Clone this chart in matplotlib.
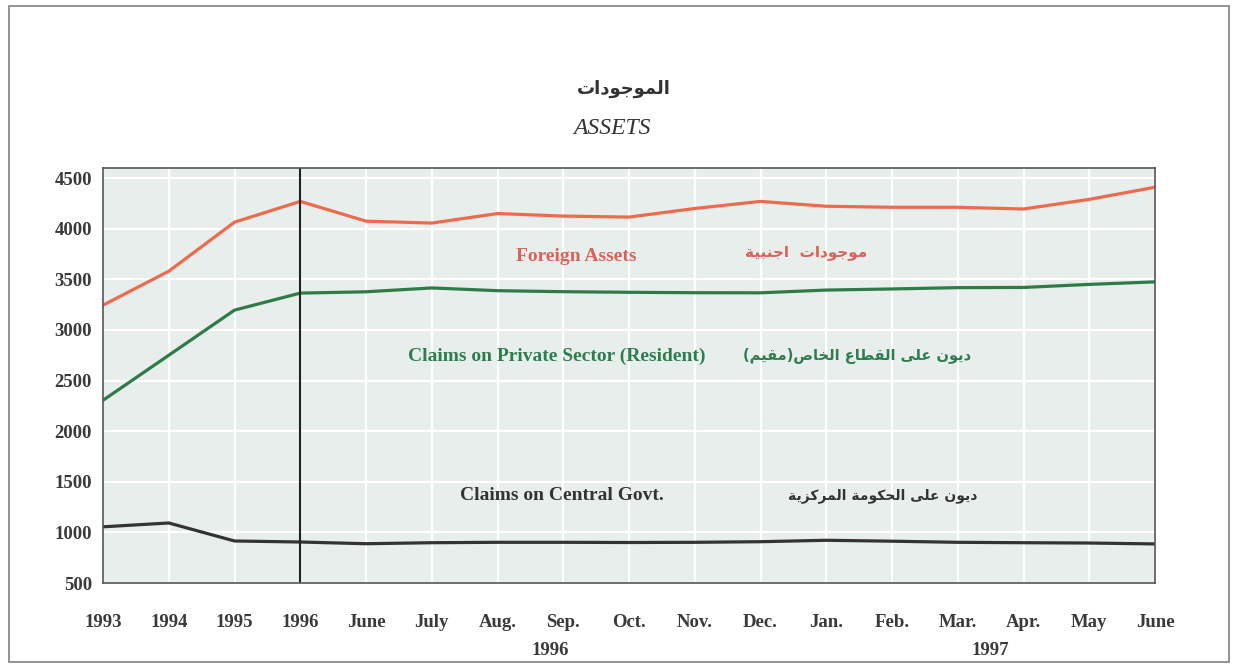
import matplotlib
matplotlib.use("Agg")
import matplotlib.pyplot as plt
from matplotlib.patches import Rectangle

# ---------------- data ----------------
x_labels = ["1993", "1994", "1995", "1996", "June", "July", "Aug.", "Sep.", "Oct.",
            "Nov.", "Dec.", "Jan.", "Feb.", "Mar.", "Apr.", "May", "June"]
foreign_assets = [3245, 3580, 4065, 4270, 4075, 4056, 4150, 4125, 4115, 4200,
                  4270, 4222, 4212, 4212, 4195, 4290, 4410]
private_sector = [2305, 2750, 3196, 3364, 3377, 3415, 3388, 3378, 3372, 3368,
                  3367, 3394, 3405, 3418, 3420, 3450, 3475]
central_govt = [1055, 1093, 915, 905, 888, 898, 902, 902, 900, 902,
                908, 922, 913, 902, 898, 895, 886]
y_ticks = [500, 1000, 1500, 2000, 2500, 3000, 3500, 4000, 4500]
year_groups = [("1996", 6.8), ("1997", 13.5)]

# ------------- minimal Arabic shaping (presentation forms) -------------
FORMS = {  # iso, fin, ini, med
    'ا': (0xFE8D, 0xFE8E, None, None),
    'ب': (0xFE8F, 0xFE90, 0xFE91, 0xFE92),
    'ة': (0xFE93, 0xFE94, None, None),
    'ت': (0xFE95, 0xFE96, 0xFE97, 0xFE98),
    'ج': (0xFE9D, 0xFE9E, 0xFE9F, 0xFEA0),
    'ح': (0xFEA1, 0xFEA2, 0xFEA3, 0xFEA4),
    'خ': (0xFEA5, 0xFEA6, 0xFEA7, 0xFEA8),
    'د': (0xFEA9, 0xFEAA, None, None),
    'ر': (0xFEAD, 0xFEAE, None, None),
    'ز': (0xFEAF, 0xFEB0, None, None),
    'ص': (0xFEB9, 0xFEBA, 0xFEBB, 0xFEBC),
    'ط': (0xFEC1, 0xFEC2, 0xFEC3, 0xFEC4),
    'ع': (0xFEC9, 0xFECA, 0xFECB, 0xFECC),
    'ق': (0xFED5, 0xFED6, 0xFED7, 0xFED8),
    'ك': (0xFED9, 0xFEDA, 0xFEDB, 0xFEDC),
    'ل': (0xFEDD, 0xFEDE, 0xFEDF, 0xFEE0),
    'م': (0xFEE1, 0xFEE2, 0xFEE3, 0xFEE4),
    'ن': (0xFEE5, 0xFEE6, 0xFEE7, 0xFEE8),
    'و': (0xFEED, 0xFEEE, None, None),
    'ى': (0xFEEF, 0xFEF0, None, None),
    'ي': (0xFEF1, 0xFEF2, 0xFEF3, 0xFEF4),
}


def shape(text):
    out = []
    n = len(text)
    for i, ch in enumerate(text):
        if ch not in FORMS:
            out.append(ch)
            continue
        f = FORMS[ch]
        prev = text[i - 1] if i > 0 else None
        nxt = text[i + 1] if i < n - 1 else None
        c_prev = prev in FORMS and FORMS[prev][2] is not None
        c_next = f[2] is not None and nxt in FORMS
        if c_prev and c_next:
            code = f[3]
        elif c_prev:
            code = f[1]
        elif c_next:
            code = f[2]
        else:
            code = f[0]
        out.append(chr(code))
    vis = ''.join(reversed(out))
    return vis.translate(str.maketrans({'(': ')', ')': '('}))


# ---------------- figure ----------------
W, H = 1234, 664
fig = plt.figure(figsize=(W / 100, H / 100), dpi=100)
fig.patch.set_facecolor("white")

fig.add_artist(Rectangle((9 / W, 2 / H), 1220 / W, 656 / H, transform=fig.transFigure,
                         fill=False, edgecolor="#8a8a8a", linewidth=1.3))

ax = fig.add_axes([103 / W, 1 - 583 / H, 1052 / W, 415 / H])
ax.set_facecolor("#e8eeeb")

xs = list(range(len(x_labels)))
ax.set_xlim(0, len(x_labels) - 1)
ax.set_ylim(500, 4600)

ax.set_xticks(xs)
ax.set_xticklabels(x_labels)
ax.set_yticks(y_ticks)
ax.set_yticklabels([str(v) for v in y_ticks])
ax.tick_params(length=0, labelsize=13.5, colors="#3a3a3a")
for lab in ax.get_xticklabels() + ax.get_yticklabels():
    lab.set_fontfamily("Liberation Serif")
    lab.set_fontweight("bold")
ax.tick_params(axis="x", pad=22)
ax.tick_params(axis="y", pad=8)

ax.grid(True, color="white", linewidth=1.6)
ax.set_axisbelow(True)
for s in ax.spines.values():
    s.set_color("#555555")
    s.set_linewidth(1.2)

ax.plot(xs, foreign_assets, color="#ee6a4c", linewidth=2.3, solid_joinstyle="round")
ax.plot(xs, private_sector, color="#2f7b48", linewidth=2.3, solid_joinstyle="round")
ax.plot(xs, central_govt, color="#333333", linewidth=2.3, solid_joinstyle="round")
ax.axvline(3, color="#222222", linewidth=1.5)

for txt, xpos in year_groups:
    ax.text(xpos, -0.163, txt, transform=ax.get_xaxis_transform(), ha="center", va="center",
            fontsize=13.5, fontweight="bold", family="Liberation Serif", color="#3a3a3a")

serif = dict(family="Liberation Serif", fontweight="bold", fontsize=14, ha="center", va="center")
arab = dict(family=["DejaVu Sans"], fontweight="bold", ha="center", va="center")

ax.text(7.2, 3730, "Foreign Assets", color="#d9625a", **serif)
ax.text(10.7, 3770, shape("موجودات  اجنبية"), color="#d9625a", fontsize=11, **arab)
ax.text(6.9, 2742, "Claims on Private Sector (Resident)", color="#2e7d4f", **serif)
ax.text(11.47, 2742, shape("ديون على القطاع الخاص(مقيم)"), color="#2e7d4f", fontsize=10.5, **arab)
ax.text(6.98, 1360, "Claims on Central Govt.", color="#333333", **serif)
ax.text(11.86, 1360, shape("ديون على الحكومة المركزية"), color="#333333", fontsize=10, **arab)

fig.text(624 / W, 1 - 89 / H, shape("الموجودات"), family=["DejaVu Sans"], fontweight="bold",
         fontsize=13, ha="center", va="center", color="#333333")
fig.text(612 / W, 1 - 128 / H, "ASSETS", family="Liberation Serif", style="italic",
         fontsize=17, ha="center", va="center", color="#333333")

fig.savefig("out.png", dpi=100, facecolor="white")
